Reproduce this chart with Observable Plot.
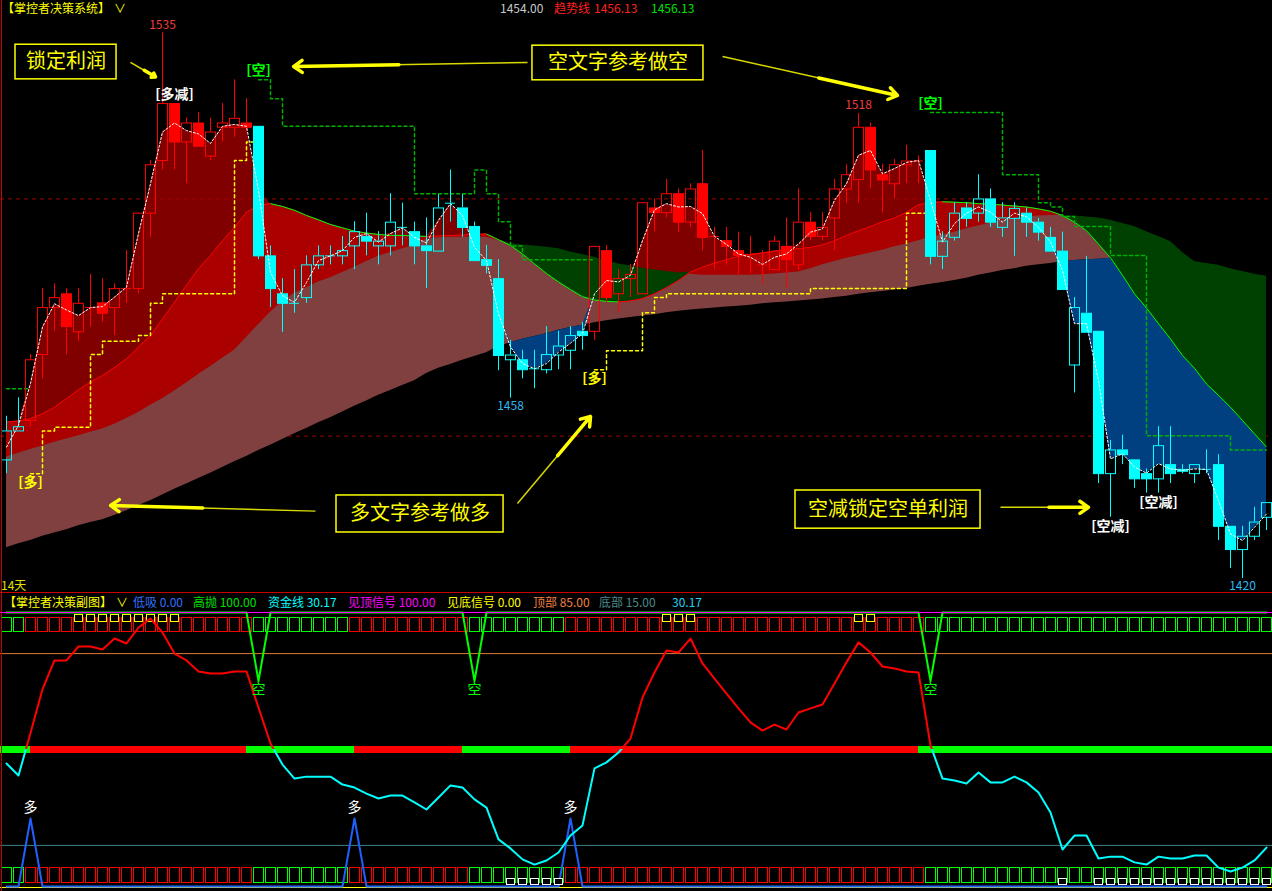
<!DOCTYPE html>
<html lang="zh">
<head>
<meta charset="utf-8">
<title>掌控者决策系统</title>
<script src="https://cdn.jsdelivr.net/npm/d3@7"></script>
<script src="https://cdn.jsdelivr.net/npm/@observablehq/plot@0.6"></script>
<style>
  html, body { margin:0; padding:0; background:#000; overflow:hidden; }
  #wrap { position:relative; width:1272px; height:891px; overflow:hidden; background:#000;
          font-family:"Noto Sans CJK SC","Noto Sans",sans-serif; }
  #main, #sub { position:absolute; left:0; }
  #main { top:0; }
  #sub { top:592px; }
  .t { position:absolute; font-size:12px; line-height:15px; white-space:nowrap; }
  .vline { position:absolute; left:1px; top:0; width:1px; height:891px; background:#c80000; }
  .hline { position:absolute; left:0; top:592px; width:1272px; height:1px; background:#c80000; }
</style>
</head>
<body>
<div id="wrap">
  <div id="main"></div>
  <div id="sub"></div>
  <div class="vline"></div>
  <div class="hline"></div>
  <div class="t" style="left:2px;top:0px;color:#ffff00">【掌控者决策系统】</div>
  <div class="t" style="left:114px;top:0px;color:#ffff00">∨</div>
  <div class="t" style="left:500px;top:0px;color:#c8c8c8">1454.00</div>
  <div class="t" style="left:554px;top:0px;color:#ff2020">趋势线</div>
  <div class="t" style="left:594px;top:0px;color:#ff2020">1456.13</div>
  <div class="t" style="left:651px;top:0px;color:#00e000">1456.13</div>
  <div class="t" style="left:1px;top:577px;color:#e0e000">14天</div>
  <div class="t" style="left:4px;top:594px;color:#ffff00">【掌控者决策副图】</div>
  <div class="t" style="left:116px;top:594px;color:#ffff00">∨</div>
  <div class="t" style="left:133px;top:594px;color:#3070ff">低吸 0.00</div>
  <div class="t" style="left:193px;top:594px;color:#00e000">高抛 100.00</div>
  <div class="t" style="left:268px;top:594px;color:#00ffff">资金线 30.17</div>
  <div class="t" style="left:348px;top:594px;color:#ff00ff">见顶信号 100.00</div>
  <div class="t" style="left:447px;top:594px;color:#ffff00">见底信号 0.00</div>
  <div class="t" style="left:533px;top:594px;color:#f08040">顶部 85.00</div>
  <div class="t" style="left:599px;top:594px;color:#4c8c8c">底部 15.00</div>
  <div class="t" style="left:672px;top:594px;color:#20d0f0">30.17</div>
</div>
<script>
// ---------------- DATA ----------------
const open = [1445.0,1451.1,1453.3,1467.2,1477.1,1480.0,1472.0,1477.1,1478.1,1477.1,
  1481.1,1481.1,1497.0,1508.1,1520.1,1512.0,1516.0,1509.0,1515.1,1515.1,
  1516.0,1515.3,1488.0,1480.0,1478.0,1479.2,1486.1,1488.0,1488.0,1490.1,
  1492.1,1490.1,1490.1,1494.0,1493.1,1490.1,1489.0,1499.1,1498.1,1494.2,
  1487.2,1483.2,1466.1,1466.1,1464.2,1464.0,1467.1,1468.1,1472.1,1472.1,
  1489.1,1480.0,1483.2,1480.0,1498.1,1497.1,1501.1,1495.1,1503.2,1492.1,
  1491.2,1489.1,1488.3,1486.1,1485.1,1490.0,1486.1,1495.1,1492.1,1496.0,
  1502.1,1504.1,1515.1,1505.1,1503.2,1507.2,1508.0,1510.2,1487.9,1491.9,
  1498.1,1497.0,1500.0,1494.0,1495.9,1497.0,1495.1,1491.9,1489.0,1465.0,
  1475.9,1472.1,1442.1,1447.1,1445.0,1442.1,1441.0,1444.0,1443.0,1442.1,
  1443.0,1444.0,1431.0,1426.1,1428.9,1432.9];
const high = [1454.2,1458.1,1467.2,1481.1,1482.1,1481.1,1481.1,1484.1,1483.2,1482.1,
  1489.1,1497.0,1508.1,1535.0,1520.1,1517.1,1518.2,1517.0,1520.1,1525.1,
  1521.1,1515.3,1490.1,1483.2,1485.1,1488.0,1490.1,1490.1,1492.1,1495.2,
  1497.0,1493.1,1501.1,1499.1,1495.1,1496.0,1500.9,1506.1,1500.9,1495.1,
  1490.2,1487.2,1470.2,1468.1,1468.1,1473.1,1472.1,1473.1,1474.0,1490.0,
  1490.2,1485.1,1486.2,1499.2,1500.0,1504.1,1502.1,1503.2,1510.2,1494.0,
  1494.0,1493.0,1492.1,1489.1,1492.1,1496.0,1502.1,1497.1,1497.1,1504.1,
  1507.2,1518.0,1516.0,1507.3,1508.3,1511.3,1509.1,1510.2,1493.1,1499.2,
  1499.2,1505.1,1502.1,1499.2,1499.2,1498.1,1495.9,1494.0,1493.0,1479.2,
  1487.9,1472.1,1449.1,1450.2,1445.0,1443.1,1452.0,1452.0,1444.0,1444.0,
  1447.1,1446.1,1431.0,1431.0,1435.0,1436.0];
const low = [1442.1,1451.1,1451.9,1462.1,1472.1,1467.1,1470.0,1473.0,1474.0,1471.2,
  1478.0,1480.0,1491.9,1506.1,1506.1,1503.2,1511.1,1508.1,1512.0,1513.0,
  1514.1,1487.2,1477.1,1471.9,1475.9,1478.0,1485.1,1486.1,1486.1,1485.1,
  1488.0,1486.1,1488.0,1490.1,1486.1,1481.1,1489.0,1495.1,1491.9,1487.0,
  1484.2,1463.8,1458.0,1462.1,1460.0,1463.1,1464.0,1464.0,1468.1,1470.2,
  1478.1,1476.0,1479.2,1480.0,1493.0,1496.0,1493.0,1494.0,1489.1,1485.1,
  1486.0,1483.9,1484.2,1482.1,1485.1,1481.1,1484.9,1491.2,1491.2,1489.0,
  1499.0,1499.1,1502.1,1497.0,1500.0,1503.2,1503.2,1486.1,1485.1,1491.1,
  1494.0,1495.1,1494.0,1491.9,1487.9,1491.9,1491.1,1489.0,1480.9,1459.1,
  1471.9,1440.0,1432.9,1444.0,1439.0,1438.0,1438.0,1440.0,1442.1,1440.0,
  1442.1,1428.0,1422.1,1420.0,1428.0,1430.1];
const close = [1451.1,1452.0,1466.1,1477.1,1479.2,1473.1,1478.0,1477.1,1475.9,1481.1,
  1481.1,1497.0,1507.2,1520.1,1512.0,1516.0,1511.1,1514.1,1516.0,1517.0,
  1515.1,1488.0,1481.1,1478.0,1478.0,1486.1,1488.0,1488.0,1489.1,1493.1,
  1491.1,1491.1,1495.1,1494.0,1490.1,1489.1,1498.1,1499.1,1494.0,1487.0,
  1486.0,1467.0,1467.1,1464.0,1464.2,1467.2,1469.0,1471.2,1471.2,1490.0,
  1479.2,1483.2,1484.1,1499.2,1497.1,1501.1,1495.1,1502.1,1491.9,1492.1,
  1490.0,1488.1,1488.3,1486.1,1491.1,1487.2,1495.1,1492.1,1494.0,1502.1,
  1505.1,1515.1,1506.1,1504.0,1507.2,1508.0,1508.0,1487.9,1491.1,1497.0,
  1495.9,1500.0,1495.1,1496.0,1498.0,1495.1,1493.0,1489.0,1480.9,1477.1,
  1471.9,1442.1,1447.1,1446.1,1441.0,1441.0,1448.0,1442.1,1442.6,1444.0,
  1443.0,1431.0,1426.1,1428.9,1431.9,1436.0];
// bars drawn in red (the rest are cyan)
const redCandleRuns = [[2, 20], [49, 76]];

// white dashed fast line
const trendLine = [1447.7,1452.3,1461.1,1473.0,1477.9,1476.6,1475.4,1477.1,1477.3,1479.3,
  1481.4,1492.7,1503.2,1514.1,1516.0,1514.4,1513.7,1511.7,1515.3,1515.7,
  1515.3,1501.8,1484.5,1479.6,1478.2,1482.4,1487.0,1488.0,1489.1,1491.9,
  1492.7,1490.9,1492.7,1493.9,1491.9,1490.7,1495.5,1499.0,1496.5,1489.8,
  1487.0,1475.8,1468.8,1465.3,1464.2,1465.3,1467.7,1469.6,1471.6,1480.0,
  1482.8,1482.5,1483.9,1491.2,1497.7,1499.0,1498.3,1498.4,1496.9,1492.1,
  1490.4,1488.4,1487.7,1486.2,1487.7,1488.4,1490.5,1493.0,1493.7,1499.7,
  1503.2,1509.2,1510.2,1505.3,1506.4,1507.7,1508.1,1499.7,1490.9,1494.8,
  1497.0,1498.3,1497.2,1495.1,1497.0,1496.2,1494.0,1490.9,1484.9,1473.7,
  1473.7,1461.7,1445.2,1446.3,1443.5,1442.2,1444.2,1443.1,1442.8,1443.1,
  1443.0,1436.4,1429.4,1428.0,1430.8,1433.6];
// thin red/green trend line
const midLine = [1453.0,1453.2,1453.7,1454.7,1456.1,1457.9,1459.8,1461.4,1462.8,1464.5,
  1466.3,1468.8,1471.2,1474.7,1478.2,1481.8,1485.3,1488.1,1491.2,1494.0,
  1497.2,1498.6,1499.0,1498.4,1497.6,1496.5,1495.6,1494.6,1493.9,1493.2,
  1492.8,1492.5,1492.3,1492.3,1492.2,1492.1,1492.2,1492.3,1492.4,1492.5,
  1492.6,1491.4,1490.2,1488.4,1486.3,1484.3,1482.5,1480.9,1479.4,1478.7,
  1478.4,1478.3,1478.5,1479.0,1480.0,1481.3,1482.8,1484.6,1485.6,1486.5,
  1487.2,1487.9,1488.3,1488.6,1489.0,1489.3,1489.5,1489.8,1490.3,1491.2,
  1492.3,1493.3,1494.2,1495.2,1496.0,1497.2,1498.8,1499.2,1499.4,1499.3,
  1499.2,1499.0,1498.9,1498.7,1498.5,1498.3,1497.9,1497.4,1496.5,1495.1,
  1493.3,1490.5,1487.6,1483.9,1480.0,1477.0,1473.7,1470.5,1467.0,1464.3,
  1461.0,1458.6,1456.1,1453.3,1450.5,1447.7];
// slower line: top of the pink band / top of the green band
const baseTop = [1445.6,1446.4,1447.2,1447.9,1448.7,1449.4,1450.1,1450.8,1451.5,1452.5,
  1453.7,1455.0,1456.5,1457.9,1459.5,1461.2,1463.0,1464.7,1466.4,1468.1,
  1470.8,1473.5,1476.1,1478.4,1480.1,1481.3,1482.5,1483.4,1484.5,1485.6,
  1486.8,1487.9,1488.7,1489.5,1490.2,1491.5,1491.8,1491.9,1491.9,1491.9,
  1491.9,1491.2,1490.6,1490.3,1490.1,1489.8,1489.5,1488.8,1488.3,1487.7,
  1487.0,1486.3,1485.9,1485.4,1485.0,1484.7,1484.4,1484.1,1483.9,1483.9,
  1483.9,1483.9,1483.9,1484.0,1484.2,1484.4,1484.6,1485.3,1486.1,1486.8,
  1487.5,1488.0,1488.6,1489.2,1489.9,1490.5,1491.2,1491.9,1492.4,1493.0,
  1493.7,1494.3,1494.9,1495.5,1495.9,1496.2,1496.4,1496.5,1496.5,1496.4,
  1496.2,1496.0,1495.5,1494.8,1494.2,1493.1,1492.1,1491.0,1488.7,1486.8,
  1486.4,1486.0,1485.3,1484.7,1484.1,1483.7];
// slowest line: bottom of the pink band
const baseLow = [1426.5,1427.3,1428.0,1428.9,1429.6,1430.3,1431.1,1431.8,1432.4,1433.3,
  1434.3,1435.4,1436.4,1437.6,1438.8,1439.9,1441.1,1442.2,1443.4,1444.6,
  1445.7,1447.0,1448.1,1449.3,1450.5,1451.6,1452.8,1453.9,1455.1,1456.3,
  1457.4,1458.6,1459.6,1460.7,1461.7,1463.2,1464.3,1465.1,1466.0,1466.8,
  1467.6,1468.9,1469.7,1470.4,1471.0,1471.6,1472.3,1472.9,1473.4,1473.9,
  1474.3,1474.7,1475.0,1475.3,1475.6,1476.0,1476.3,1476.6,1476.8,1477.0,
  1477.2,1477.4,1477.6,1477.9,1478.1,1478.3,1478.5,1478.7,1478.9,1479.2,
  1479.5,1479.9,1480.2,1480.5,1480.8,1481.1,1481.6,1482.0,1482.4,1482.8,
  1483.3,1483.9,1484.4,1484.9,1485.3,1485.8,1486.1,1486.4,1486.8,1487.0,
  1487.2,1487.3,1487.5,1487.6,1487.7,1487.8,1487.9,1488.0,1488.1,1488.2,
  1488.3,1488.4,1488.5,1488.6,1488.7,1488.8];

// yellow dashed support steps and green dashed resistance steps
const supportAFrom = 2;
const supportA = [1442.1,1451.1,1451.9,1451.9,1451.9,1467.2,1470.0,1470.0,1470.0,1471.2,
  1478.0,1480.0,1480.0,1480.0,1480.0,1480.0,1480.0,1508.1,1512.0,1512.0];
const supportBFrom = 49;
const supportB = [1464.0,1468.0,1468.0,1468.0,1476.0,1479.2,1480.0,1480.0,1480.0,1480.0,
  1480.0,1480.0,1480.0,1480.0,1480.0,1480.0,1480.0,1480.0,1481.1,1481.1,
  1481.1,1481.1,1481.1,1481.1,1481.1,1481.1,1497.0,1497.0,1497.0];
const resistAFrom = 0;
const resistA = [1460.0,1460.0,1460.0];
const resistBFrom = 21;
const resistB = [1525.1,1521.1,1515.3,1515.3,1515.3,1515.3,1515.3,1515.3,1515.3,1515.3,
  1515.3,1515.3,1515.3,1501.1,1501.1,1501.1,1501.1,1501.1,1506.1,1501.1,
  1495.2,1490.1,1487.2,1487.2,1487.2,1487.2,1487.2,1487.2,1487.2];
const resistCFrom = 77;
const resistC = [1518.2,1518.2,1518.2,1518.2,1518.2,1518.2,1505.1,1505.1,1505.1,1499.2,
  1498.3,1496.3,1494.2,1494.2,1494.2,1488.1,1488.1,1488.1,1450.1,1450.1,
  1450.1,1450.1,1450.1,1450.1,1450.1,1447.1,1447.1,1447.1,1447.1];

// dashed reference price levels
const refLevels = [1500, 1450];

// price extremes
const priceLabels = [
  {k: 13, p: 1535, text: "1535", side: "above", color: "#f03c3c"},
  {k: 71, p: 1518, text: "1518", side: "above", color: "#f03c3c"},
  {k: 42, p: 1458, text: "1458", side: "below", color: "#30b8f0"},
  {k: 103, p: 1420, text: "1420", side: "below", color: "#30b8f0"}
];
// signal labels
const signalLabels = [
  {k: 14, p: 1520.1, text: "[多减]", side: "above", color: "#ffffff"},
  {k: 21, p: 1525.1, text: "[空]", side: "above", color: "#00ff00"},
  {k: 77, p: 1518.2, text: "[空]", side: "above", color: "#00ff00"},
  {k: 2, p: 1442.1, text: "[多]", side: "below", color: "#ffff00"},
  {k: 49, p: 1464.0, text: "[多]", side: "below", color: "#ffff00"},
  {k: 92, p: 1432.9, text: "[空减]", side: "below", color: "#ffffff"},
  {k: 96, p: 1438.0, text: "[空减]", side: "below", color: "#ffffff"}
];
// annotation boxes and arrows (in bar / price units)
const noteBoxes = [
  {text: "锁定利润", k1: 0.75, k2: 9.17, p1: 1532.5, p2: 1525.2},
  {text: "空文字参考做空", k1: 43.83, k2: 58.08, p1: 1532.3, p2: 1525.0},
  {text: "多文字参考做多", k1: 27.5, k2: 41.42, p1: 1437.5, p2: 1429.7},
  {text: "空减锁定空单利润", k1: 65.75, k2: 81.17, p1: 1438.55, p2: 1430.5}
];
const noteArrows = [
  {k1: 10.33, p1: 1528.8, k2: 12.42, p2: 1525.7},
  {k1: 43.42, p1: 1528.75, k2: 23.92, p2: 1527.9},
  {k1: 59.67, p1: 1530.0, k2: 74.25, p2: 1521.8},
  {k1: 25.75, p1: 1434.2, k2: 8.67, p2: 1435.4},
  {k1: 42.58, p1: 1435.8, k2: 48.67, p2: 1454.15},
  {k1: 82.83, p1: 1435.0, k2: 90.17, p2: 1435.0}
];

// ---------------- SUB PANEL DATA ----------------
const fundLine = [44.9,40.5,56.0,72.0,82.5,82.5,87.6,87.6,86.5,90.5,
  88.7,94.5,97.8,92.7,85.0,82.5,78.5,77.7,77.7,78.5,
  78.5,65.3,52.2,44.5,39.4,40.1,40.1,40.1,37.2,36.1,
  33.9,32.1,33.2,33.2,30.7,28.1,32.5,36.9,36.1,31.8,
  28.8,17.2,13.9,9.9,8.0,9.5,12.4,18.6,22.3,43.1,
  45.3,48.9,54.0,69.0,78.1,86.1,85.4,90.5,81.4,75.9,
  70.4,65.0,59.9,56.9,59.1,57.3,63.5,65.0,66.4,74.1,
  81.8,89.1,85.4,80.3,79.6,78.5,78.1,51.5,39.4,38.7,
  37.6,41.6,38.0,38.0,40.1,38.0,34.3,27.0,13.5,18.6,
  18.6,10.2,10.9,10.9,8.8,8.0,10.9,10.2,10.2,11.3,
  11.3,6.9,5.5,6.9,9.5,14.2];
const sellBars = [21, 39, 77];       // 高抛 dips (空)
const sellDip = 75;
const buyBars = [2, 29, 47];         // 低吸 spikes (多)
const buyPeak = 24.8;
const topSignalBars = [6,7,8,9,10,11,12,13,14,55,56,57,71,72];
const bottomSignalBars = [42,43,44,45,46,88,91,92,93,94,95,96,97,98,99,100,101,102,103,104,105];
const boxRuns = [[0,1,"down"],[2,20,"up"],[21,28,"down"],[29,38,"up"],[39,46,"down"],[47,76,"up"],[77,105,"down"]];
const barRuns = [[-0.5,2,"down"],[2,20,"up"],[20,29,"down"],[29,38,"up"],[38,47,"down"],[47,76,"up"],[76,105.5,"down"]];
const subLevels = {top: 100, high: 85, mid: 50, low: 15, bottom: 0};

// ---------------- BUILD ----------------
const FONT = '"Noto Sans CJK SC","Noto Sans",sans-serif';
const RED = "#ff0000", CYAN = "#00ffff", GREEN = "#00ff00";
const N = close.length;
const inRuns = (k, runs) => runs.some(([a, b]) => k >= a && k <= b);
const rows = d3.range(N).map(k => ({
  k, o: open[k], h: high[k], l: low[k], c: close[k],
  a: trendLine[k], b: midLine[k], e: baseTop[k], s: baseLow[k],
  col: inRuns(k, redCandleRuns) ? RED : CYAN
}));
const steps = (from, vals) => vals.map((val, i) => ({k: from + i, v: val}));
const midSegs = d3.range(1, N).map(k => ({
  k0: k - 1, k1: k, v0: midLine[k - 1], v1: midLine[k],
  col: midLine[k] > midLine[k - 1] ? RED : GREEN
}));
const HW = 5 / 12;     // half body width (bar units)
const HWS = 4 / 12;    // half width of the small signal boxes
const CRISP = {dx: 0.5, dy: 0.5};  // put 1px outlines on pixel centres
// arrow heads: the thick part of each tapered arrow starts part-way along it
const HEAD_FROM = 0.55;
const arrowHeads = noteArrows.map(d => ({
  k1: d.k1 + (d.k2 - d.k1) * HEAD_FROM, p1: d.p1 + (d.p2 - d.p1) * HEAD_FROM, k2: d.k2, p2: d.p2
}));

const main = Plot.plot({
  width: 1272, height: 592, margin: 0,
  style: {background: "transparent", fontFamily: FONT, overflow: "visible"},
  x: {domain: [0, N - 1], range: [6, 1266], axis: null},
  y: {domain: [1458, 1420], range: [397.7, 578], axis: null},
  color: {type: "identity"},
  marks: [
    Plot.ruleY([refLevels[1]], {stroke: "#a00000", strokeDasharray: "4,4"}),
    Plot.areaY(rows, {x: "k", y1: "s", y2: d => Math.max(d.b, d.s), fill: "#804040"}),
    Plot.areaY(rows, {x: "k", y1: "e", y2: d => Math.max(d.b, d.e), fill: "#aa0000"}),
    Plot.areaY(rows, {x: "k", y1: "b", y2: d => Math.max(d.a, d.b), fill: "#800000"}),
    Plot.areaY(rows, {x: "k", y1: "a", y2: d => Math.max(d.a, Math.min(d.b, d.s)), fill: "#004080"}),
    Plot.areaY(rows, {x: "k", y1: "b", y2: d => Math.max(d.b, d.e), fill: "#004000"}),
    Plot.ruleY([refLevels[0]], {stroke: "#a00000", strokeDasharray: "4,4"}),
    Plot.link(midSegs, {x1: "k0", y1: "v0", x2: "k1", y2: "v1", stroke: "col", strokeWidth: 1}),
    Plot.line(steps(supportAFrom, supportA), {x: "k", y: "v", curve: "step-after", stroke: "#ffff00", strokeDasharray: "3,3"}),
    Plot.line(steps(supportBFrom, supportB), {x: "k", y: "v", curve: "step-after", stroke: "#ffff00", strokeDasharray: "3,3"}),
    Plot.line(steps(resistAFrom, resistA), {x: "k", y: "v", curve: "step-after", stroke: "#00b000", strokeDasharray: "3,3"}),
    Plot.line(steps(resistBFrom, resistB), {x: "k", y: "v", curve: "step-after", stroke: "#00b000", strokeDasharray: "3,3"}),
    Plot.line(steps(resistCFrom, resistC), {x: "k", y: "v", curve: "step-after", stroke: "#00b000", strokeDasharray: "3,3"}),
    // candles
    Plot.ruleX(rows, {x: "k", y1: "h", y2: d => Math.max(d.o, d.c), stroke: "col"}),
    Plot.ruleX(rows, {x: "k", y1: d => Math.min(d.o, d.c), y2: "l", stroke: "col"}),
    Plot.rect(rows.filter(d => d.c < d.o), {x1: d => d.k - HW, x2: d => d.k + HW, y1: "o", y2: "c", fill: "col", stroke: "col", ...CRISP}),
    Plot.rect(rows.filter(d => d.c > d.o), {x1: d => d.k - HW, x2: d => d.k + HW, y1: "o", y2: "c", fill: "none", stroke: "col", ...CRISP}),
    Plot.ruleY(rows.filter(d => d.c === d.o), {y: "c", x1: d => d.k - HW, x2: d => d.k + HW, stroke: "col"}),
    Plot.line(rows, {x: "k", y: "a", stroke: "#ffffff", strokeWidth: 1, strokeDasharray: "2,2"}),
    // labels
    Plot.text(priceLabels.filter(d => d.side === "above"), {x: "k", y: "p", text: "text", fill: "color", fontSize: 12, dy: -8}),
    Plot.text(priceLabels.filter(d => d.side === "below"), {x: "k", y: "p", text: "text", fill: "color", fontSize: 12, dy: 8}),
    Plot.text(signalLabels.filter(d => d.side === "above"), {x: "k", y: "p", text: "text", fill: "color", fontSize: 14, fontWeight: "bold", dy: -9}),
    Plot.text(signalLabels.filter(d => d.side === "below"), {x: "k", y: "p", text: "text", fill: "color", fontSize: 14, fontWeight: "bold", dy: 9}),
    // annotations: tapered yellow arrows
    Plot.link(noteArrows, {x1: "k1", y1: "p1", x2: "k2", y2: "p2", stroke: "#d8d800", strokeWidth: 1.5}),
    Plot.arrow(arrowHeads, {x1: "k1", y1: "p1", x2: "k2", y2: "p2", stroke: "#ffff00", strokeWidth: 3.5, headLength: 4.5, headAngle: 70}),
    Plot.rect(noteBoxes, {x1: "k1", x2: "k2", y1: "p1", y2: "p2", fill: "#000000", stroke: "#ffff00", strokeWidth: 1.5}),
    Plot.text(noteBoxes, {x: d => (d.k1 + d.k2) / 2, y: d => (d.p1 + d.p2) / 2, text: "text", fill: "#ffff00", fontSize: 20})
  ]
});
document.getElementById("main").appendChild(main);

// ---------------- SUB PANEL ----------------
const SUB_H = 299;
const SUB_RANGE = [294, 20];
const PX = (SUB_RANGE[0] - SUB_RANGE[1]) / 100;           // px per unit
const rowValue = px => (SUB_RANGE[0] - px) / PX;          // local pixel row -> value
const TOP_ROW = [rowValue(39), rowValue(25)], BOT_ROW = [rowValue(290), rowValue(275)];
const TOP_SIG = [rowValue(29), rowValue(22)], BOT_SIG = [rowValue(292), rowValue(286)];

const fundRows = fundLine.map((val, k) => ({k, v: val}));
const sellRows = d3.range(N).map(k => ({k, v: sellBars.includes(k) ? sellDip : subLevels.top}));
const buyRows = d3.range(N).map(k => ({k, v: buyBars.includes(k) ? buyPeak : subLevels.bottom}));
const boxRows = d3.range(N).map(k => {
  const r = boxRuns.find(([a, b]) => k >= a && k <= b);
  return {k, col: r && r[2] === "up" ? RED : GREEN};
});
const barSegs = barRuns.map(([x1, x2, s]) => ({x1, x2, col: s === "up" ? RED : GREEN}));

const gradDefs = (index, scales) => {
  const y50 = scales && typeof scales.y === "function" ? scales.y(subLevels.mid)
    : SUB_RANGE[0] + (SUB_RANGE[1] - SUB_RANGE[0]) * 0.5;
  const defs = d3.create("svg:defs");
  const g = defs.append("linearGradient").attr("id", "fundGrad").attr("gradientUnits", "userSpaceOnUse")
    .attr("x1", 0).attr("y1", 0).attr("x2", 0).attr("y2", SUB_H);
  const off = y50 / SUB_H;
  g.append("stop").attr("offset", off).attr("stop-color", RED);
  g.append("stop").attr("offset", off).attr("stop-color", CYAN);
  return defs.node();
};

const sub = Plot.plot({
  width: 1272, height: SUB_H, margin: 0,
  style: {background: "transparent", fontFamily: FONT, overflow: "visible"},
  x: {domain: [0, N - 1], range: [6, 1266], axis: null},
  y: {domain: [0, 100], range: SUB_RANGE, axis: null},
  color: {type: "identity"},
  marks: [
    gradDefs,
    Plot.ruleY(barSegs, {y: () => subLevels.mid, x1: "x1", x2: "x2", stroke: "col", strokeWidth: 7}),
    Plot.ruleY([subLevels.high], {stroke: "#e07838"}),
    Plot.ruleY([subLevels.low], {stroke: "#3f8080"}),
    Plot.rect(boxRows, {x1: d => d.k - HW, x2: d => d.k + HW, y1: () => TOP_ROW[0], y2: () => TOP_ROW[1], fill: "none", stroke: "col", ...CRISP}),
    Plot.rect(boxRows, {x1: d => d.k - HW, x2: d => d.k + HW, y1: () => BOT_ROW[0], y2: () => BOT_ROW[1], fill: "none", stroke: "col", ...CRISP}),
    Plot.rect(topSignalBars, {x1: d => d - HWS, x2: d => d + HWS, y1: () => TOP_SIG[0], y2: () => TOP_SIG[1], fill: "#000000", stroke: "#ffff00", ...CRISP}),
    Plot.line(sellRows, {x: "k", y: "v", stroke: GREEN, strokeWidth: 2}),
    Plot.ruleY([subLevels.top], {stroke: "#ff00ff"}),
    Plot.ruleY([subLevels.bottom], {stroke: "#ffff00", dy: 1}),
    Plot.line(buyRows, {x: "k", y: "v", stroke: "#2060ff", strokeWidth: 2}),
    Plot.rect(bottomSignalBars, {x1: d => d - HWS, x2: d => d + HWS, y1: () => BOT_SIG[0], y2: () => BOT_SIG[1], fill: "#000000", stroke: "#ffffff", ...CRISP}),
    Plot.line(fundRows, {x: "k", y: "v", stroke: "url(#fundGrad)", strokeWidth: 2}),
    Plot.text(sellBars, {x: d => d, y: () => sellDip, text: () => "空", fill: GREEN, fontSize: 14, dy: 9}),
    Plot.text(buyBars, {x: d => d, y: () => buyPeak, text: () => "多", fill: "#ffffff", fontSize: 14, dy: -11})
  ]
});
document.getElementById("sub").appendChild(sub);
</script>
</body>
</html>
